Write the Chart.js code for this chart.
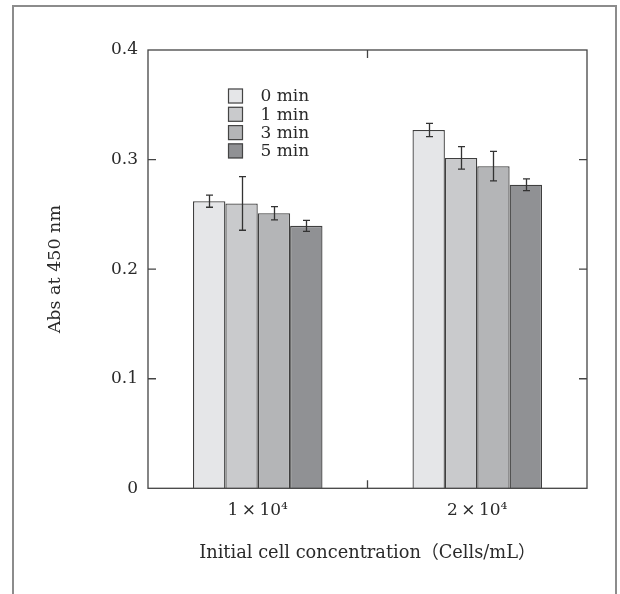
<!DOCTYPE html>
<html>
<head>
<meta charset="utf-8">
<script src="https://cdn.jsdelivr.net/npm/chart.js@4/dist/chart.umd.min.js"></script>
<style>
  html, body { margin: 0; padding: 0; background: #fff; }
  #c { display: block; }
</style>
</head>
<body>
<canvas id="c" width="620" height="594"></canvas>
<script>
// ---- data ----
const categories = ['1\u2009×\u200910⁴', '2\u2009×\u200910⁴'];
const seriesLabels = ['0 min', '1 min', '3 min', '5 min'];
const means0 = [0.262, 0.327];
const means1 = [0.260, 0.3015];
const means3 = [0.251, 0.294];
const means5 = [0.2395, 0.277];
const err0 = [0.0055, 0.006];
const err1 = [0.0245, 0.0103];
const err3 = [0.006, 0.0135];
const err5 = [0.005, 0.0053];
const yTicks = [0, 0.1, 0.2, 0.3, 0.4];
const yTitle = 'Abs at 450 nm';
const xTitle = 'Initial cell concentration（Cells/mL）';

const seriesValues = [means0, means1, means3, means5];
const seriesErrors = [err0, err1, err3, err5];
const seriesColors = ['#e5e6e8', '#c9cacc', '#b4b5b7', '#909194'];

const FONT = '"DejaVu Serif", "Liberation Serif", "Noto Sans CJK JP", serif';
const TEXT = '#2a2a2a';

const framePlugin = {
  id: 'frame',
  beforeDraw(chart) {
    const ctx = chart.ctx;
    ctx.save();
    ctx.strokeStyle = '#8c8c8c';
    ctx.lineWidth = 2;
    ctx.beginPath();
    ctx.moveTo(13, 600);
    ctx.lineTo(13, 6);
    ctx.lineTo(616, 6);
    ctx.lineTo(616, 600);
    ctx.stroke();
    ctx.restore();
  },
  afterDatasetsDraw(chart) {
    const ctx = chart.ctx;
    const a = chart.chartArea;
    const ys = chart.scales.y, xs = chart.scales.x;
    ctx.save();
    // error bars
    ctx.strokeStyle = '#333';
    ctx.lineWidth = 1.3;
    chart.data.datasets.forEach((ds, di) => {
      const meta = chart.getDatasetMeta(di);
      meta.data.forEach((el, i) => {
        const v = ds.data[i], e = seriesErrors[di][i];
        const yt = ys.getPixelForValue(v + e), yb = ys.getPixelForValue(v - e);
        const x = Math.round(el.x) + 0.5;
        ctx.beginPath();
        ctx.moveTo(x, yt); ctx.lineTo(x, yb);
        ctx.moveTo(x - 3.5, yt); ctx.lineTo(x + 3.5, yt);
        ctx.moveTo(x - 3.5, yb); ctx.lineTo(x + 3.5, yb);
        ctx.stroke();
      });
    });
    // plot frame
    ctx.strokeStyle = '#444';
    ctx.lineWidth = 1.3;
    ctx.strokeRect(a.left, a.top, a.right - a.left, a.bottom - a.top);
    // inward y ticks (left and right)
    const tl = 8;
    ctx.beginPath();
    ys.ticks.forEach((t, i) => {
      const y = ys.getPixelForTick(i);
      if (i === 0 || i === ys.ticks.length - 1) return;
      ctx.moveTo(a.left, y); ctx.lineTo(a.left + tl, y);
      ctx.moveTo(a.right, y); ctx.lineTo(a.right - tl, y);
    });
    // x ticks between categories (top and bottom, inward)
    for (let i = 0; i < xs.ticks.length - 1; i++) {
      const x = (xs.getPixelForTick(i) + xs.getPixelForTick(i + 1)) / 2;
      ctx.moveTo(x, a.bottom); ctx.lineTo(x, a.bottom - tl);
      ctx.moveTo(x, a.top); ctx.lineTo(x, a.top + tl);
    }
    ctx.stroke();
    // legend
    const bx = a.left + 80, by = a.top + 38.5, step = 18.3, bs = 15;
    ctx.font = '17px ' + FONT;
    ctx.textBaseline = 'middle';
    ctx.textAlign = 'left';
    chart.data.datasets.forEach((ds, di) => {
      const y = by + di * step;
      ctx.fillStyle = ds.backgroundColor;
      ctx.fillRect(bx, y, bs, bs);
      ctx.strokeStyle = '#444';
      ctx.lineWidth = 1.2;
      ctx.strokeRect(bx + 0.5, y + 0.5, bs - 1, bs - 1);
      ctx.fillStyle = TEXT;
      ctx.fillText(ds.label, bx + 32.5, y + bs / 2 + 1);
    });
    ctx.restore();
  }
};

new Chart(document.getElementById('c'), {
  type: 'bar',
  data: {
    labels: categories,
    datasets: seriesLabels.map((lab, i) => ({
      label: lab,
      data: seriesValues[i],
      backgroundColor: seriesColors[i],
      borderColor: '#3f3f3f',
      borderWidth: 1.3,
      categoryPercentage: 0.59,
      barPercentage: 1.0
    }))
  },
  options: {
    responsive: false,
    animation: false,
    layout: { padding: { left: 30, right: 33, top: 50, bottom: 20 } },
    plugins: { legend: { display: false }, tooltip: { enabled: false } },
    scales: {
      y: {
        min: 0, max: 0.4,
        afterBuildTicks: s => { s.ticks = yTicks.map(v => ({ value: v })); },
        afterFit: s => { s.width = 118; },
        grid: { display: false, drawTicks: false },
        border: { display: false },
        ticks: { padding: 10, color: TEXT, font: { family: FONT, size: 17 },
                 callback: v => String(v) },
        title: { display: true, text: yTitle, color: TEXT,
                 font: { family: FONT, size: 17.5 }, padding: { top: 15, bottom: 0 } }
      },
      x: {
        afterFit: s => { s.height = 85.7; },
        grid: { display: false, drawTicks: false },
        border: { display: false },
        ticks: { padding: 12, color: TEXT, font: { family: FONT, size: 17 } },
        title: { display: true, text: xTitle, color: TEXT,
                 font: { family: FONT, size: 17.8 }, padding: { top: 0, bottom: 10 } }
      }
    }
  },
  plugins: [framePlugin]
});
</script>
</body>
</html>
